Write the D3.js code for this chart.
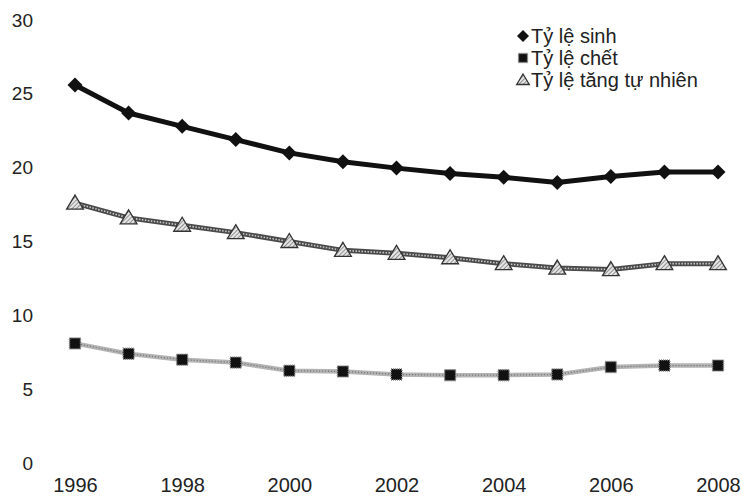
<!DOCTYPE html>
<html>
<head>
<meta charset="utf-8">
<script src="https://cdn.jsdelivr.net/npm/d3@7"></script>
<style>
  html, body { margin: 0; padding: 0; background: #fff; }
  svg { display: block; font-family: "Liberation Sans", Arial, sans-serif; }
</style>
</head>
<body>
<svg id="chart" width="742" height="502"></svg>
<script>
// Population rates (per 1000 people), 1996–2008
const years = [1996, 1997, 1998, 1999, 2000, 2001, 2002, 2003, 2004, 2005, 2006, 2007, 2008];
const birthRate    = [25.6, 23.7, 22.8, 21.9, 21.0, 20.4, 19.97, 19.6, 19.35, 19.0, 19.4, 19.7, 19.7];
const deathRate    = [8.1, 7.4, 7.0, 6.8, 6.25, 6.2, 6.0, 5.95, 5.95, 6.0, 6.5, 6.6, 6.6];
const naturalRate  = [17.6, 16.6, 16.1, 15.6, 15.0, 14.4, 14.2, 13.9, 13.5, 13.2, 13.1, 13.5, 13.5];
const yTicks = [0, 5, 10, 15, 20, 25, 30];
const xTicks = [1996, 1998, 2000, 2002, 2004, 2006, 2008];
const seriesNames = ["Tỷ lệ sinh", "Tỷ lệ chết", "Tỷ lệ tăng tự nhiên"];

const svg = d3.select("#chart");

const x = d3.scaleLinear().domain([1996, 2008]).range([75, 718]);
const y = d3.scaleLinear().domain([0, 30]).range([463, 20]);

// hatched fill for the triangle markers
const defs = svg.append("defs");
const hatch = defs.append("pattern")
  .attr("id", "hatch").attr("patternUnits", "userSpaceOnUse")
  .attr("width", 3).attr("height", 3)
  .attr("patternTransform", "rotate(45)");
hatch.append("rect").attr("width", 3).attr("height", 3).attr("fill", "#e6e6e6");
hatch.append("line").attr("x1", 0).attr("y1", 0).attr("x2", 0).attr("y2", 3)
  .attr("stroke", "#555").attr("stroke-width", 1.2);

// axes: labels only, no lines
const yAxis = svg.append("g")
  .attr("transform", "translate(33,0)")
  .call(d3.axisLeft(y).tickValues(yTicks).tickSize(0).tickPadding(0).tickFormat(d3.format("d")));
yAxis.select(".domain").remove();
yAxis.selectAll("text").attr("font-size", 19).attr("fill", "#222")
  .attr("font-family", "Liberation Sans, Arial, sans-serif");

const xAxis = svg.append("g")
  .attr("transform", "translate(0,478)")
  .call(d3.axisBottom(x).tickValues(xTicks).tickSize(0).tickPadding(0).tickFormat(d3.format("d")));
xAxis.select(".domain").remove();
xAxis.selectAll("text").attr("font-size", 20).attr("fill", "#222")
  .attr("font-family", "Liberation Sans, Arial, sans-serif");

const line = d3.line().x((d, i) => x(years[i])).y(d => y(d));

// marker shapes
function drawDiamond(g, cx, cy, s) {
  g.append("path")
    .attr("d", `M${cx},${cy - s}L${cx + s},${cy}L${cx},${cy + s}L${cx - s},${cy}Z`)
    .attr("fill", "#111");
}
function drawSquare(g, cx, cy, s) {
  g.append("rect")
    .attr("x", cx - s).attr("y", cy - s).attr("width", 2 * s).attr("height", 2 * s)
    .attr("fill", "#111").attr("stroke", "#888").attr("stroke-width", 1.5)
    .attr("stroke-dasharray", "1,1");
}
function drawTriangle(g, cx, cy, s) {
  g.append("path")
    .attr("d", `M${cx},${cy - s}L${cx + s * 1.05},${cy + s * 0.75}L${cx - s * 1.05},${cy + s * 0.75}Z`)
    .attr("fill", "url(#hatch)").attr("stroke", "#333").attr("stroke-width", 1.3);
}

// natural increase: dark dithered line
svg.append("path").datum(naturalRate).attr("d", line)
  .attr("fill", "none").attr("stroke", "#4a4a4a").attr("stroke-width", 5);
svg.append("path").datum(naturalRate).attr("d", line)
  .attr("fill", "none").attr("stroke", "#c8c8c8").attr("stroke-width", 1.6)
  .attr("stroke-dasharray", "1.5,1.5");
const triG = svg.append("g");
naturalRate.forEach((v, i) => drawTriangle(triG, x(years[i]), y(v), 8));

// death rate: light dithered line
svg.append("path").datum(deathRate).attr("d", line)
  .attr("fill", "none").attr("stroke", "#b4b4b4").attr("stroke-width", 4.5);
svg.append("path").datum(deathRate).attr("d", line)
  .attr("fill", "none").attr("stroke", "#7a7a7a").attr("stroke-width", 1.3)
  .attr("stroke-dasharray", "1.2,1.8");
const sqG = svg.append("g");
deathRate.forEach((v, i) => drawSquare(sqG, x(years[i]), y(v), 5.5));

// birth rate: thick black line
svg.append("path").datum(birthRate).attr("d", line)
  .attr("fill", "none").attr("stroke", "#111").attr("stroke-width", 5)
  .attr("stroke-linejoin", "round");
const diaG = svg.append("g");
birthRate.forEach((v, i) => drawDiamond(diaG, x(years[i]), y(v), 7.5));

// legend
const legend = svg.append("g");
const legendY = [36, 58, 80];
const markers = [drawDiamond, drawSquare, drawTriangle];
const mSizes = [6, 4.5, 6];
seriesNames.forEach((name, i) => {
  markers[i](legend, 523, legendY[i], mSizes[i]);
  legend.append("text")
    .attr("x", 531).attr("y", legendY[i] + 7)
    .attr("font-size", 20).attr("fill", "#222")
    .text(name);
});
</script>
</body>
</html>
